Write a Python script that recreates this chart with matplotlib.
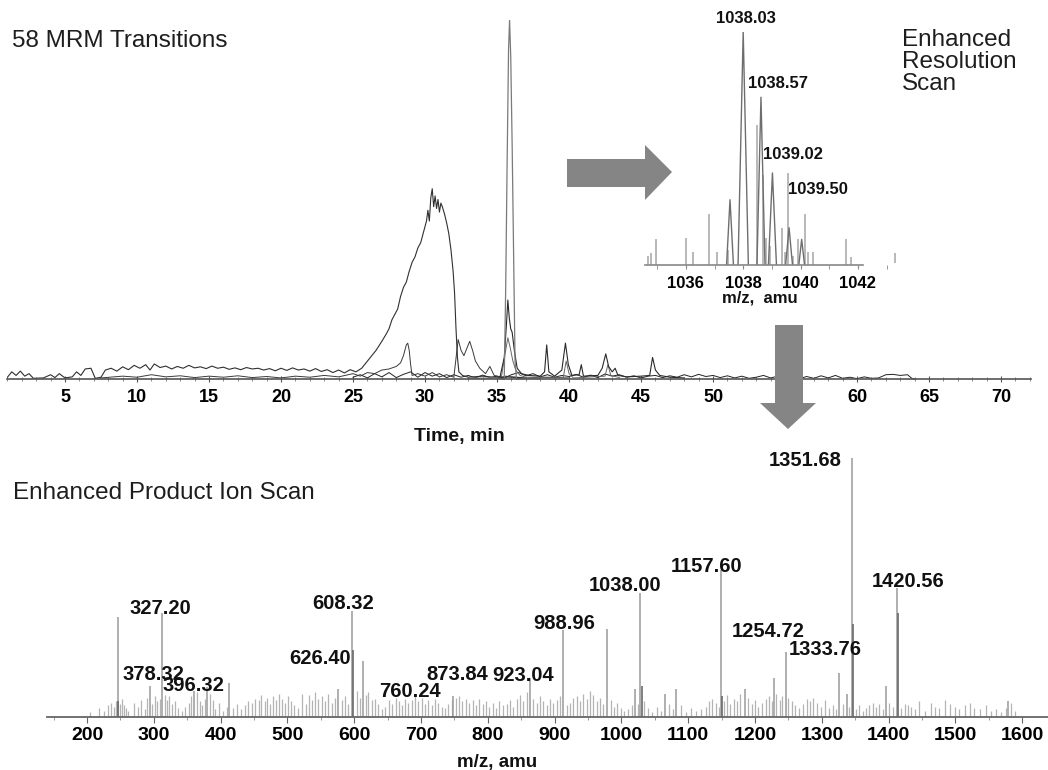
import matplotlib
matplotlib.use('Agg')
import matplotlib.pyplot as plt
from matplotlib import font_manager
from matplotlib.patches import Polygon
from matplotlib.ticker import MultipleLocator, FormatStrFormatter

# ---------------- chromatogram data (time, min / relative intensity %) ----------------
trace_broad = [(1.0, 0.5), (1.3, 2.0), (1.6, 1.0), (1.9, 2.2), (2.2, 0.8), (2.5, 1.5), (2.8, 0.2),
               (3.5, 0.3), (4.0, 1.2), (4.3, 0.4), (4.6, 1.5), (5.0, 0.3), (5.5, 0.6), (5.8, 2.0),
               (6.1, 1.0), (6.4, 2.8), (6.8, 3.0), (7.1, 0.2), (7.5, 0.5), (7.8, 2.5), (8.2, 3.0),
               (8.6, 2.2), (9.0, 3.4), (9.4, 2.6), (9.8, 3.8), (10.2, 3.0), (10.6, 4.0), (10.9, 2.5),
               (11.2, 4.2), (11.6, 3.2), (12.0, 3.6), (12.4, 2.8), (12.8, 3.5), (13.2, 3.0), (13.6, 3.8),
               (14.0, 3.1), (14.4, 3.4), (14.8, 2.9), (15.2, 3.6), (15.6, 3.0), (16.0, 3.3), (16.4, 2.7),
               (16.8, 3.1), (17.2, 2.6), (17.6, 3.2), (18.0, 2.8), (18.4, 3.0), (18.8, 2.5), (19.2, 2.9),
               (19.6, 2.3), (20.0, 3.0), (20.4, 2.4), (20.8, 3.1), (21.2, 2.5), (21.6, 2.8), (22.0, 2.2),
               (22.4, 2.9), (22.8, 2.1), (23.2, 2.6), (23.6, 1.8), (24.0, 2.5), (24.4, 1.7), (24.8, 2.6),
               (25.2, 2.0), (25.6, 3.0), (26.0, 5.0), (26.3, 6.5), (26.6, 8.0), (27.0, 10.5), (27.3, 12.5),
               (27.5, 14.0), (27.7, 16.5), (27.9, 18.0), (28.1, 19.5), (28.3, 23.0), (28.5, 25.5),
               (28.7, 27.0), (28.9, 30.0), (29.1, 32.5), (29.3, 34.0), (29.5, 36.5), (29.7, 38.0),
               (29.9, 41.0), (30.1, 44.0), (30.2, 47.0), (30.3, 44.0), (30.4, 50.5), (30.5, 53.0),
               (30.6, 48.0), (30.7, 51.0), (30.8, 47.5), (30.9, 50.0), (31.0, 46.5), (31.1, 49.0),
               (31.2, 48.0), (31.35, 46.0), (31.5, 43.5), (31.65, 40.5), (31.8, 36.0), (31.95, 30.0),
               (32.05, 24.0), (32.15, 14.0), (32.25, 6.0), (32.35, 2.0), (32.6, 1.0), (33.0, 0.5),
               (34.0, 0.8), (35.0, 0.4), (36.0, 0.6), (37.0, 0.3)]

trace_early = [(7.5, 0.3), (9.0, 0.8), (10.0, 0.5), (11.0, 1.2), (12.0, 0.6), (13.0, 0.9), (14.0, 0.4),
               (15.0, 0.8), (16.0, 0.5), (17.0, 0.9), (18.0, 0.4), (19.0, 0.7), (20.0, 0.3), (21.0, 0.8),
               (22.0, 0.5), (23.0, 1.0), (24.0, 0.6), (25.0, 1.5), (25.5, 0.8), (26.0, 1.8), (26.5, 1.5),
               (27.0, 2.5), (27.5, 2.8), (28.0, 3.5), (28.3, 4.5), (28.5, 6.5), (28.7, 9.5), (28.8, 10.0),
               (28.9, 8.0), (29.0, 4.0), (29.1, 1.0), (29.5, 1.5), (30.0, 0.8), (30.5, 1.8), (31.0, 0.6),
               (31.5, 1.2), (32.0, 0.5), (32.3, 11.0), (32.5, 8.0), (32.7, 6.5), (32.9, 8.5), (33.1, 10.5),
               (33.3, 8.0), (33.5, 5.0), (33.8, 3.0), (34.2, 1.5), (34.5, 3.5), (34.8, 1.0), (35.3, 0.5),
               (35.6, 0.8), (36.0, 0.5), (37.0, 0.3), (38.0, 0.5), (40.0, 0.3)]

trace_sharp = [(33.0, 0.2), (35.0, 0.3), (35.5, 0.0), (35.6, 25.0), (35.7, 60.0), (35.8, 92.0),
               (35.87, 100.0), (35.95, 90.0), (36.05, 65.0), (36.15, 35.0), (36.25, 5.0), (36.35, 0.0),
               (37.0, 0.3), (38.0, 0.1)]

trace_late = [(35.2, 0.5), (35.5, 6.0), (35.65, 15.0), (35.75, 22.0), (35.85, 17.0), (35.95, 14.0),
              (36.05, 13.0), (36.2, 8.0), (36.4, 3.0), (36.7, 1.5), (37.2, 1.0), (38.0, 0.8), (38.3, 2.0),
              (38.45, 9.5), (38.6, 2.0), (39.0, 0.8), (39.5, 2.5), (39.75, 10.0), (39.95, 4.0),
              (40.2, 1.0), (40.7, 1.2), (40.85, 4.0), (41.0, 0.8), (42.0, 1.0), (42.3, 3.0), (42.55, 7.0),
              (42.75, 3.5), (43.0, 2.0), (43.2, 3.0), (43.4, 1.0), (44.0, 0.6), (45.0, 0.8), (45.6, 1.0),
              (45.8, 6.0), (46.0, 2.5), (46.3, 1.0), (47.0, 0.5), (48.0, 0.3)]

trace_mid = [(35.3, 0.5), (35.6, 8.0), (35.75, 11.5), (35.9, 9.0), (36.1, 5.0), (36.3, 2.5), (36.6, 1.0),
             (37.0, 0.5), (39.6, 0.5), (39.8, 5.0), (40.0, 1.5), (40.3, 0.3), (42.5, 0.8), (42.7, 4.0),
             (42.9, 1.0), (43.5, 0.4)]

trace_base = [(25.0, 0.5), (25.5, 1.2), (26.0, 0.3), (26.5, 1.5), (27.0, 0.6), (27.5, 1.8), (28.0, 0.4),
              (28.5, 1.3), (29.0, 2.0), (29.5, 0.5), (30.0, 1.8), (30.5, 0.8), (31.0, 1.5), (31.5, 0.4),
              (32.0, 1.2), (32.5, 0.5), (33.0, 1.0), (33.5, 0.3), (34.0, 1.1), (34.5, 0.4), (35.0, 0.8),
              (35.5, 0.3), (36.0, 1.2), (36.5, 1.8), (37.0, 0.9), (37.5, 1.5), (38.0, 0.6), (38.5, 1.2),
              (39.0, 0.5), (39.5, 1.0), (40.0, 0.7), (40.5, 1.3), (41.0, 0.5), (41.5, 1.1), (42.0, 0.4),
              (42.5, 1.4), (43.0, 0.8), (43.5, 1.2), (44.0, 0.5), (44.5, 0.9), (45.0, 0.3), (45.5, 0.8),
              (46.0, 1.0), (46.5, 0.4), (47.0, 0.9), (47.5, 0.5), (48.0, 1.2), (48.5, 0.6), (49.0, 1.3),
              (49.5, 0.7), (50.0, 1.0), (50.5, 0.4), (51.0, 0.9), (51.5, 0.3), (52.0, 0.8), (52.5, 0.2),
              (53.0, 0.5), (53.5, 1.0), (54.0, 0.3), (54.5, 0.8), (55.0, 0.2), (55.5, 0.6), (56.0, 0.1),
              (56.5, 0.7), (57.0, 0.2), (57.5, 0.9), (58.0, 0.3), (58.5, 1.0), (59.0, 0.2), (59.5, 0.5),
              (60.0, 0.1), (60.5, 0.6), (61.0, 0.2), (61.5, 0.3), (62.0, 1.2), (62.5, 1.3), (63.0, 1.0),
              (63.5, 1.2), (63.8, 0.2), (64.0, 0.0)]

time_ticks = [5, 10, 15, 20, 25, 30, 35, 40, 45, 50, 55, 60, 65, 70]
time_ticklabels = ['5', '10', '15', '20', '25', '30', '35', '40', '45', '50', '', '60', '65', '70']

# ---------------- enhanced resolution scan (inset) ----------------
er_profile_mz = [1037.54, 1038.0, 1038.62, 1039.02, 1039.6, 1040.04]
er_profile_h = [28, 100, 72, 39.5, 16, 11]
er_profile_halfw = [0.12, 0.18, 0.14, 0.14, 0.12, 0.10]

er_stick_mz = [1034.69, 1034.8, 1034.95, 1036.0, 1036.26, 1036.8, 1037.07, 1037.46, 1038.47, 1038.68,
               1038.79, 1038.93, 1039.34, 1039.45, 1039.57, 1039.72, 1039.92, 1040.15, 1040.27,
               1040.44, 1041.58, 1041.75]
er_stick_h = [4, 5, 11, 11.6, 5.6, 22, 5.6, 6.4, 60, 38.6, 11.6, 8, 16, 5.6, 39.5, 4, 11, 22, 5.6,
              5.6, 11, 3.5]

er_labels = ['1038.03', '1038.57', '1039.02', '1039.50']
er_label_mz = [1038.08, 1039.2, 1039.74, 1040.62]
er_label_h = [106, 78, 47.6, 32.6]

# ---------------- enhanced product ion scan ----------------
epi_mz = [246, 294, 312, 360, 380, 412, 576, 597, 613, 748, 863, 913, 979, 1020, 1028, 1065, 1082,
          1149, 1185, 1228, 1246, 1326, 1338, 1345, 1396, 1413, 1579]
epi_h = [38.6, 12, 40, 10, 11.6, 13, 11, 41, 21.6, 8, 15, 33.6, 34, 11, 48, 9, 11,
         56.8, 11, 15, 25, 17, 9, 100, 12, 50, 6]
# darker doublet partners under the main lines
epi_dark_mz = [246, 598.5, 1030, 1151, 1347, 1414.5]
epi_dark_h = [6, 26, 12, 8, 36, 40]

epi_noise = [(205, 2.0), (218, 3.5), (226, 2.5), (232, 4.5), (236, 5.5), (240, 4.0), (243, 6.0), (249, 5.0),
             (252, 7.0), (255, 4.5), (258, 3.5), (262, 2.5), (270, 5.5), (276, 4.0), (281, 6.5), (286, 3.0),
             (290, 7.5), (297, 5.0), (301, 8.0), (305, 6.0), (309, 7.0), (316, 8.5), (320, 6.5), (323, 8.0),
             (327, 5.0), (331, 6.0), (336, 3.5), (342, 2.5), (347, 4.0), (352, 5.5), (356, 8.0), (364, 9.5),
             (369, 6.0), (372, 4.5), (376, 7.0), (384, 9.0), (388, 6.5), (392, 3.0), (398, 5.5), (404, 2.5),
             (409, 4.0), (418, 3.5), (424, 5.0), (430, 3.0), (436, 4.5), (441, 6.0), (447, 5.5), (452, 7.0),
             (457, 6.5), (461, 8.5), (466, 6.0), (470, 7.5), (474, 5.0), (479, 8.0), (483, 6.5), (487, 9.0),
             (492, 7.0), (496, 5.5), (501, 8.0), (505, 6.0), (510, 4.5), (516, 3.5), (521, 9.0), (527, 5.0),
             (532, 8.5), (536, 6.5), (541, 9.5), (546, 7.0), (551, 8.0), (556, 6.0), (561, 9.0), (566, 5.5),
             (571, 7.5), (581, 6.5), (586, 8.0), (590, 5.0), (604, 10.0), (608, 7.5), (617, 8.5), (621, 9.5),
             (626, 6.5), (631, 7.0), (636, 5.0), (641, 3.0), (646, 4.0), (652, 6.5), (657, 5.0), (662, 7.5),
             (667, 6.0), (671, 4.5), (676, 7.0), (681, 5.5), (686, 6.5), (691, 8.0), (696, 6.0), (701, 7.5),
             (706, 5.0), (711, 6.5), (716, 4.5), (721, 7.0), (726, 5.5), (731, 4.0), (736, 3.5), (741, 5.0),
             (746, 6.5), (752, 7.5), (757, 8.0), (762, 6.0), (767, 7.0), (772, 5.5), (777, 6.5), (782, 4.5),
             (787, 7.0), (792, 5.0), (797, 6.0), (802, 4.0), (807, 5.5), (812, 3.5), (817, 6.0), (822, 4.5),
             (828, 5.0), (833, 6.5), (838, 4.0), (843, 7.0), (848, 8.5), (853, 6.0), (858, 9.5), (868, 7.0),
             (873, 5.5), (878, 8.0), (883, 6.0), (888, 4.5), (893, 7.0), (898, 5.5), (903, 6.5), (908, 8.0),
             (918, 4.5), (923, 5.5), (928, 7.5), (933, 8.0), (938, 6.0), (943, 9.0), (948, 7.0), (953, 10.0),
             (958, 8.5), (963, 6.0), (968, 7.5), (973, 5.0), (984, 6.5), (989, 4.0), (994, 5.5), (999, 3.5),
             (1004, 2.5), (1010, 3.0), (1015, 4.5), (1024, 5.0), (1034, 6.0), (1040, 3.5), (1046, 2.0),
             (1053, 4.0), (1059, 2.5), (1071, 5.0), (1077, 3.0), (1089, 4.5), (1096, 2.0), (1104, 3.5),
             (1112, 2.5), (1119, 3.0), (1126, 4.0), (1131, 6.0), (1136, 7.0), (1141, 5.5), (1146, 4.0),
             (1153, 6.0), (1158, 8.5), (1163, 5.0), (1168, 7.0), (1173, 6.0), (1178, 9.0), (1190, 7.5),
             (1195, 5.0), (1200, 6.5), (1205, 4.0), (1210, 5.5), (1216, 7.0), (1221, 8.0), (1225, 6.0),
             (1232, 9.0), (1237, 6.5), (1241, 8.0), (1250, 7.5), (1255, 6.0), (1260, 4.5), (1266, 3.5),
             (1272, 5.0), (1277, 7.0), (1282, 6.0), (1287, 7.5), (1292, 5.5), (1298, 4.0), (1304, 6.5),
             (1310, 3.5), (1316, 4.5), (1321, 3.0), (1331, 5.0), (1341, 4.0), (1351, 3.0), (1356, 4.5),
             (1361, 2.5), (1366, 3.5), (1371, 4.5), (1376, 5.5), (1381, 4.0), (1386, 5.0), (1391, 3.0),
             (1401, 5.5), (1406, 4.0), (1419, 3.5), (1424, 5.0), (1429, 4.5), (1434, 4.0), (1440, 3.0),
             (1446, 6.0), (1455, 2.5), (1463, 5.5), (1470, 4.0), (1476, 3.5), (1484, 6.5), (1492, 5.0),
             (1499, 4.0), (1506, 3.0), (1514, 4.5), (1521, 5.5), (1528, 3.5), (1536, 3.0), (1545, 4.5),
             (1553, 2.5), (1561, 3.0), (1568, 2.0), (1575, 3.5), (1583, 5.5), (1589, 2.5)]

epi_labels = ['327.20', '378.32', '396.32', '608.32', '626.40', '760.24', '873.84', '923.04', '988.96',
              '1038.00', '1157.60', '1254.72', '1333.76', '1351.68', '1420.56']
epi_label_mz = [309, 299, 359, 583, 549, 683, 754, 853, 914, 1005, 1127, 1219, 1305, 1275, 1429]
epi_label_h = [41.7, 16.6, 12, 44, 22.4, 9.7, 16.6, 16.2, 36, 50.6, 58, 33, 26, 99, 52.5]

# ---------------- figure ----------------
W, H = 1048, 770
installed = {f.name for f in font_manager.fontManager.ttflist}
narrow = 'Liberation Sans Narrow' if 'Liberation Sans Narrow' in installed else 'Liberation Sans'
plt.rcParams['font.family'] = ['Liberation Sans', 'DejaVu Sans']

fig = plt.figure(figsize=(W / 100, H / 100), dpi=100)


def rect(x0, x1, ytop, ybot):
    return [x0 / W, 1 - ybot / H, (x1 - x0) / W, (ybot - ytop) / H]


def strip(ax, spine_color):
    for s in ['left', 'right', 'top']:
        ax.spines[s].set_visible(False)
    ax.spines['bottom'].set_color(spine_color)
    ax.set_yticks([])
    ax.patch.set_alpha(0)


# chromatogram
ax1 = fig.add_axes(rect(7, 1031, 20, 386.2))
strip(ax1, '#555555')
ax1.spines['bottom'].set_position(('data', 0))
ax1.spines['bottom'].set_linewidth(1.2)
ax1.set_xlim(0.97, 72.08)
ax1.set_ylim(-2, 100)
styles = [(trace_base, '#222222', 0.7), (trace_early, '#3a3a3a', 0.7), (trace_mid, '#666666', 0.7),
          (trace_late, '#2a2a2a', 0.8), (trace_broad, '#303030', 0.8), (trace_sharp, '#7a7a7a', 0.9)]
for tr, col, lw in styles:
    t, y = zip(*tr)
    ax1.plot(t, y, color=col, lw=lw)
ax1.set_xticks(time_ticks)
ax1.set_xticklabels(time_ticklabels, fontsize=13, fontweight='bold')
ax1.xaxis.set_minor_locator(MultipleLocator(1))
ax1.tick_params(axis='x', which='major', direction='inout', length=5, color='#555555', pad=5)
ax1.tick_params(axis='x', which='minor', direction='inout', length=3, color='#777777')

# inset: enhanced resolution scan
ax2 = fig.add_axes(rect(640, 900, 32, 265))
strip(ax2, '#888888')
ax2.spines['bottom'].set_linewidth(1.2)
ax2.spines['bottom'].set_bounds(1034.57, 1042.19)
ax2.set_xlim(1034.40, 1043.47)
ax2.set_ylim(0, 100)
ax2.vlines(er_stick_mz, 0, er_stick_h, colors='#a5a5a5', lw=1.1)
for c, h, w in zip(er_profile_mz, er_profile_h, er_profile_halfw):
    ax2.plot([c - w, c, c + w], [0, h, 0], color='#6e6e6e', lw=1.0)
ax2.vlines([1043.29], 1.0, 5.2, colors='#a5a5a5', lw=1.1, clip_on=False)
for lab, m, h in zip(er_labels, er_label_mz, er_label_h):
    ax2.text(m, h, lab, ha='center', va='center', fontsize=12, fontweight='bold',
             family=narrow, color='#111111')
ax2.xaxis.set_major_locator(MultipleLocator(2))
ax2.xaxis.set_minor_locator(MultipleLocator(1))
ax2.xaxis.set_major_formatter(FormatStrFormatter('%d'))
for lab in ax2.get_xticklabels():
    lab.set_family(narrow)
ax2.tick_params(axis='x', which='both', direction='out', length=3, color='#888888', pad=5,
                labelsize=12)
for lab in ax2.get_xticklabels():
    lab.set_fontweight('bold')
    lab.set_family(narrow)

# product ion scan
ax3 = fig.add_axes(rect(47, 1049, 458, 717))
strip(ax3, '#666666')
ax3.spines['bottom'].set_linewidth(1.3)
ax3.set_xlim(140, 1640)
ax3.set_ylim(0, 100)
nm, nh = zip(*epi_noise)
ax3.vlines(nm, 0, nh, colors='#b4b4b4', lw=0.9)
ax3.vlines(epi_mz, 0, epi_h, colors='#9a9a9a', lw=1.1)
ax3.vlines(epi_dark_mz, 0, epi_dark_h, colors='#6a6a6a', lw=1.2)
for lab, m, h in zip(epi_labels, epi_label_mz, epi_label_h):
    ax3.text(m, h, lab, ha='center', va='center', fontsize=14.5, fontweight='bold', color='#111111')
ax3.xaxis.set_major_locator(MultipleLocator(100))
ax3.xaxis.set_minor_locator(MultipleLocator(50))
ax3.xaxis.set_major_formatter(FormatStrFormatter('%d'))
ax3.tick_params(axis='x', which='major', direction='out', length=4, color='#666666', pad=3,
                labelsize=14)
ax3.tick_params(axis='x', which='minor', direction='out', length=2.5, color='#888888')
for lab in ax3.get_xticklabels():
    lab.set_fontweight('bold')

# arrows
arrow_col = '#858585'
right_arrow = [(567, 159), (645, 159), (645, 145), (672, 172), (645, 200), (645, 187), (567, 187)]
down_arrow = [(775, 325), (803, 325), (803, 403), (816, 403), (788, 429), (760, 403), (775, 403)]
for shape in [right_arrow, down_arrow]:
    fig.add_artist(Polygon([(x / W, 1 - y / H) for x, y in shape], closed=True,
                           transform=fig.transFigure, facecolor=arrow_col, edgecolor='none',
                           zorder=10))

# texts
title_kw = dict(fontsize=17.5, color='#1e1e1e', va='center', ha='left')
fig.text(12 / W, 1 - 41 / H, '58 MRM Transitions', **title_kw)
fig.text(13 / W, 1 - 493 / H, 'Enhanced Product Ion Scan', **title_kw)
for i, word in enumerate(['Enhanced', 'Resolution', 'Scan']):
    fig.text(902 / W, 1 - (40 + 22 * i) / H, word, **title_kw)
fig.text(459 / W, 1 - 437 / H, 'Time, min', fontsize=14, fontweight='bold', ha='center',
         va='center', color='#111111')
fig.text(497 / W, 1 - 762 / H, 'm/z, amu', fontsize=13.5, fontweight='bold', ha='center',
         va='center', color='#111111')
fig.text(760 / W, 1 - 298 / H, 'm/z,  amu', fontsize=12, fontweight='bold', family=narrow,
         ha='center', va='center', color='#111111')

fig.savefig('out.png', dpi=100)
